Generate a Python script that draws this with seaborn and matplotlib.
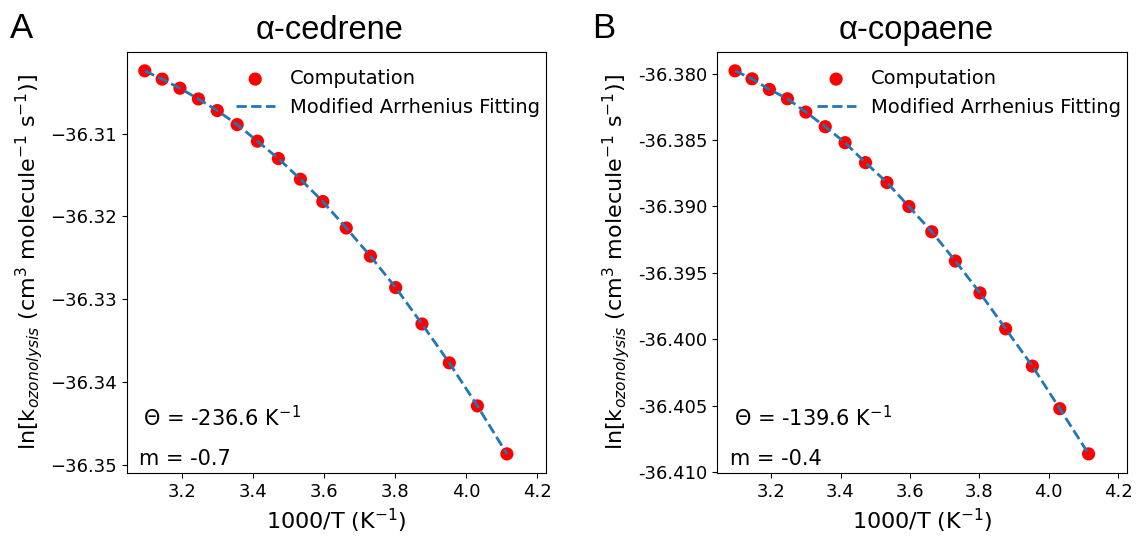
import matplotlib
matplotlib.use('Agg')
import matplotlib.pyplot as plt
import seaborn as sns
import pandas as pd

# 1000/T (K^-1) for T = 323, 318, ... 243 K
inv_temp = [3.096, 3.145, 3.195, 3.247, 3.300, 3.356, 3.413, 3.472, 3.534,
            3.597, 3.663, 3.731, 3.802, 3.876, 3.953, 4.032, 4.115]

# ln k values
cedrene_lnk = [-36.3024, -36.3034, -36.3045, -36.3058, -36.3072, -36.3089,
               -36.3109, -36.3130, -36.3155, -36.3182, -36.3214, -36.3248,
               -36.3286, -36.3330, -36.3377, -36.3429, -36.3487]
copaene_lnk = [-36.3798, -36.3804, -36.3812, -36.3819, -36.3829, -36.3840,
               -36.3852, -36.3867, -36.3882, -36.3900, -36.3919, -36.3941,
               -36.3965, -36.3992, -36.4020, -36.4052, -36.4086]

panels = ['A', 'B']
compounds = ['α-cedrene', 'α-copaene']
theta_text = [r'$\Theta$ = -236.6 K$^{-}$$^{1}$', r'$\Theta$ = -139.6 K$^{-}$$^{1}$']
m_text = ['m = -0.7', 'm = -0.4']

fig = plt.figure(figsize=(11.41, 5.39), dpi=100)
ax_left = fig.add_axes([0.111, 0.1224, 0.3675, 0.7817])
ax_right = fig.add_axes([0.6287, 0.1224, 0.3588, 0.7817])
axes = [ax_left, ax_right]
letter_x = [0.009, 0.519]
legend_x = [1.028, 1.029]

for i, (ax, lnk) in enumerate(zip(axes, [cedrene_lnk, copaene_lnk])):
    df = pd.DataFrame({'x': inv_temp, 'y': lnk})
    sns.scatterplot(data=df, x='x', y='y', color='red', s=90, edgecolor='none',
                    label='Computation', ax=ax, zorder=2)
    sns.lineplot(data=df, x='x', y='y', color='#1f77b4', linestyle='--', linewidth=2,
                 label='Modified Arrhenius Fitting', ax=ax, zorder=3)
    ax.set_xlim(3.045, 4.225)
    ax.set_xticks([3.2, 3.4, 3.6, 3.8, 4.0, 4.2])
    ax.tick_params(labelsize=13)
    ax.set_xlabel(r'1000/T (K$^{-1}$)', fontsize=16)
    ax.set_ylabel(r'ln[k$_{ozonolysis}$ (cm$^3$ molecule$^{-1}$ s$^{-1}$)]', fontsize=16)
    ax.set_title(compounds[i], fontsize=23.5, family='Liberation Sans', pad=9, x=0.485)
    ax.legend(loc='upper right', bbox_to_anchor=(legend_x[i], 1.0), frameon=False,
              fontsize=14)
    ax.text(0.04, 0.11, theta_text[i], transform=ax.transAxes, fontsize=15,
            va='baseline')
    ax.text(0.03, 0.02, m_text[i], transform=ax.transAxes, fontsize=15,
            va='baseline')
    fig.text(letter_x[i], 0.929, panels[i], fontsize=25, family='Liberation Sans',
             va='baseline')

ax_right.yaxis.set_major_formatter(matplotlib.ticker.FormatStrFormatter('%.3f'))
ax_right.set_yticks([-36.380, -36.385, -36.390, -36.395, -36.400, -36.405, -36.410])

fig.savefig('out.png', dpi=100)
